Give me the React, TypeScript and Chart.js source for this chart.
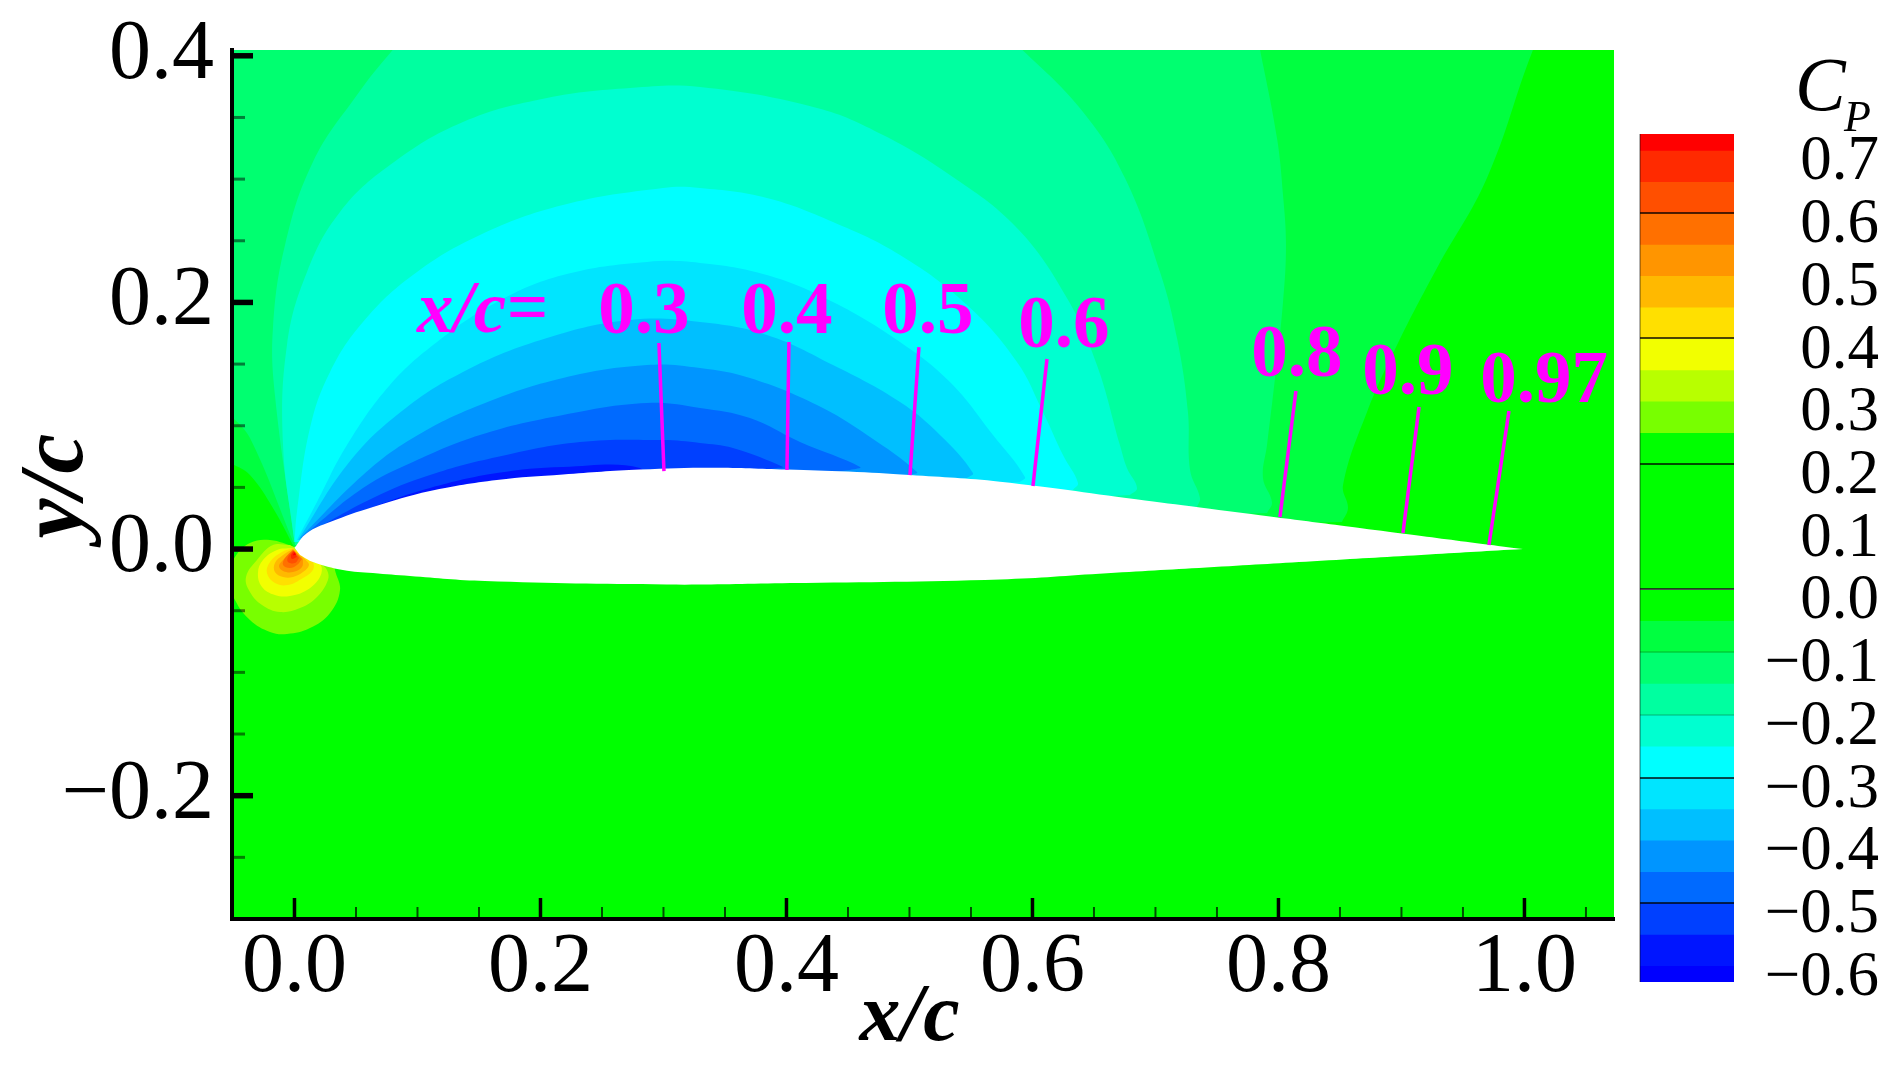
import React, { useEffect, useRef } from 'react';
import { Chart, registerables } from 'chart.js';

Chart.register(...registerables);

const SERIF = '"Liberation Serif", serif';

// plot limits
const xMin = -0.0508;
const xMax = 1.0728;
const yMin = -0.3;
const yMax = 0.4047;

const xMajorTicks = [0, 0.2, 0.4, 0.6, 0.8, 1.0];
const xMinorTicks = [0.05, 0.1, 0.15, 0.25, 0.3, 0.35, 0.45, 0.5, 0.55, 0.65, 0.7, 0.75, 0.85, 0.9, 0.95, 1.05];
const yMajorTicks = [-0.2, 0, 0.2, 0.4];
const yMinorTicks = [-0.25, -0.15, -0.1, -0.05, 0.05, 0.1, 0.15, 0.25, 0.3, 0.35];

// contour boundaries in x/c, y/c (each closes through the inside of the airfoil)
const fieldCorners = [[-0.06, -0.31], [-0.06, 0.44], [1.08, 0.44], [1.08, -0.31]];
const cpM005 = [[0, 0.001], [-0.0175, 0.0333], [-0.0362, 0.06], [-0.06, 0.0803], [-0.06, 0.48], [1.04, 0.48], [1.007, 0.405], [0.9695, 0.3009], [0.9289, 0.2279], [0.8964, 0.1654], [0.872, 0.1111], [0.8525, 0.0519], [0.8565, 0.0333], [0.8516, 0.0219]];
const cpM010 = [[-0.001, 0.0057], [-0.0362, 0.09], [-0.06, 0.1249], [-0.06, 0.48], [0.77, 0.48], [0.785, 0.405], [0.7988, 0.3333], [0.8037, 0.2871], [0.8061, 0.2466], [0.8037, 0.2003], [0.7972, 0.1387], [0.7907, 0.0843], [0.7874, 0.0576], [0.7947, 0.0381], [0.7907, 0.0292]];
const cpM015 = [[0.0004, 0.0032], [-0.0159, 0.1249], [-0.0175, 0.1792], [-0.0077, 0.2466], [0.015, 0.3139], [0.0508, 0.3682], [0.0801, 0.405], [0.13, 0.46], [0.53, 0.46], [0.5915, 0.405], [0.6411, 0.3545], [0.6752, 0.3009], [0.7037, 0.2247], [0.7175, 0.1711], [0.7264, 0.1111], [0.7281, 0.0641], [0.7362, 0.0414], [0.7337, 0.0341]];
const cpM020 = [[0, 0.0057], [-0.0093, 0.0843], [-0.0061, 0.1655], [0.0102, 0.2247], [0.037, 0.2733], [0.0776, 0.3114], [0.137, 0.3463], [0.2053, 0.3658], [0.2728, 0.3739], [0.3297, 0.3747], [0.4248, 0.3577], [0.4785, 0.3358], [0.5329, 0.3033], [0.5874, 0.2603], [0.628, 0.2036], [0.6524, 0.1492], [0.6711, 0.0843], [0.6768, 0.0657], [0.685, 0.0495], [0.6793, 0.0438]];
const cpM025 = [[0, 0.0057], [0.002, 0.03], [0.0126, 0.0981], [0.0289, 0.1436], [0.0557, 0.1841], [0.0963, 0.2222], [0.1508, 0.2547], [0.2183, 0.279], [0.2996, 0.2928], [0.3297, 0.2928], [0.3841, 0.2847], [0.4378, 0.2652], [0.4923, 0.2384], [0.5468, 0.1979], [0.5874, 0.1517], [0.6085, 0.1111], [0.6248, 0.0762], [0.637, 0.0535], [0.6329, 0.0479]];
const cpM030 = [[0.002, 0.0073], [0.0183, 0.0381], [0.0427, 0.0843], [0.0776, 0.133], [0.1159, 0.1679], [0.1646, 0.2003], [0.2183, 0.2222], [0.2866, 0.2328], [0.3297, 0.232], [0.3841, 0.2222], [0.4378, 0.2003], [0.4923, 0.1679], [0.5329, 0.1354], [0.5679, 0.0925], [0.5939, 0.0584], [0.5898, 0.0543]];
const cpM035 = [[0.003, 0.0073], [0.0427, 0.0681], [0.0833, 0.1087], [0.137, 0.1436], [0.2053, 0.1711], [0.2728, 0.1857], [0.3297, 0.1841], [0.3841, 0.1736], [0.4378, 0.1492], [0.4923, 0.1192], [0.5248, 0.0925], [0.5516, 0.0616], [0.5468, 0.0576]];
const cpM040 = [[0.0045, 0.0089], [0.0557, 0.06], [0.0963, 0.09], [0.1508, 0.1168], [0.2183, 0.1387], [0.2866, 0.1492], [0.3297, 0.1468], [0.3703, 0.1387], [0.4248, 0.1168], [0.4655, 0.0925], [0.5061, 0.0624], [0.5004, 0.06]];
const cpM045 = [[0.0069, 0.0105], [0.0557, 0.0495], [0.0963, 0.0706], [0.1508, 0.0925], [0.2183, 0.1087], [0.2866, 0.1184], [0.3297, 0.1144], [0.3703, 0.1062], [0.411, 0.0868], [0.4598, 0.0665], [0.4516, 0.0641]];
const cpM050 = [[0.0085, 0.0114], [0.0638, 0.0414], [0.1102, 0.06], [0.1646, 0.0746], [0.2321, 0.0868], [0.2996, 0.0884], [0.3297, 0.086], [0.3565, 0.0819], [0.3972, 0.0665], [0.3923, 0.0657]];
const cpM055 = [[0.011, 0.013], [0.0638, 0.0341], [0.1102, 0.0495], [0.1646, 0.0616], [0.2183, 0.0665], [0.2809, 0.0657], [0.2809, 0.05]];

// the high pressure spot at the leading edge
const cpP025 = [[0.0004, 0.0016], [-0.0199, 0.0073], [-0.0362, 0.0049], [-0.0484, -0.0065], [-0.0541, -0.0235], [-0.0484, -0.0414], [-0.0362, -0.0576], [-0.0199, -0.0673], [-0.0061, -0.0689], [0.0126, -0.0641], [0.0289, -0.0519], [0.037, -0.0333], [0.0329, -0.017], [0.03, 0]];
const cpP030 = [[-0.0037, 0.0032], [-0.0175, 0.0032], [-0.0305, -0.0089], [-0.0394, -0.0227], [-0.0362, -0.0349], [-0.0264, -0.0454], [-0.0118, -0.0511], [0.0045, -0.0479], [0.0183, -0.0389], [0.0272, -0.0251], [0.0264, -0.017], [0.0207, -0.0114]];
const cpP035 = [[-0.002, 0.0008], [-0.0142, -0.0008], [-0.0256, -0.0089], [-0.0297, -0.0195], [-0.0264, -0.0308], [-0.0159, -0.0373], [-0.0037, -0.0381], [0.0102, -0.0333], [0.0207, -0.0227], [0.0215, -0.013], [0.015, -0.0105]];
const cpP040 = [[-0.0012, 0.0008], [-0.0102, -0.0024], [-0.0199, -0.0105], [-0.0224, -0.0195], [-0.0159, -0.0276], [-0.0053, -0.0292], [0.0069, -0.0235], [0.015, -0.017], [0.015, -0.0105], [0.011, -0.0089]];
const cpP045 = [[-0.0012, 0], [-0.0093, -0.0049], [-0.0159, -0.0114], [-0.0159, -0.0187], [-0.0093, -0.0227], [-0.0012, -0.0227], [0.0069, -0.0187], [0.0118, -0.013], [0.0085, -0.0081]];
const cpP050 = [[-0.0012, -0.0008], [-0.0093, -0.0089], [-0.0126, -0.0138], [-0.0093, -0.0178], [-0.0012, -0.0187], [0.0061, -0.0146], [0.0069, -0.0081]];
const cpP055 = [[-0.0012, -0.0008], [-0.0077, -0.0073], [-0.0093, -0.013], [-0.0037, -0.0154], [0.002, -0.013], [0.0061, -0.0081]];
const cpP060 = [[-0.0012, -0.0016], [-0.0053, -0.0065], [-0.0053, -0.0105], [0.0004, -0.0114], [0.0037, -0.0073]];
const cpP065 = [[-0.0004, -0.0016], [-0.0028, -0.0049], [-0.002, -0.0081], [0.002, -0.0065]];
const cpP070 = [[0.0004, -0.0024], [-0.0012, -0.0049], [0.0012, -0.0049]];

// upper surface from the nose, the tail point twice so the curve keeps its corner, then the lower surface back
const airfoil = [[0, 0.001], [0.0102, 0.013], [0.0289, 0.0219], [0.0638, 0.0341], [0.1102, 0.047], [0.1646, 0.056], [0.2183, 0.0605], [0.2809, 0.0645], [0.34, 0.066], [0.4004, 0.0645], [0.45, 0.0628], [0.5004, 0.06], [0.5736, 0.0546], [0.6842, 0.0404], [0.7362, 0.0337], [0.7931, 0.0264], [0.8549, 0.0185], [0.902, 0.0124], [0.9711, 0.0035], [0.9988, 0], [0.9988, 0], [0.9223, -0.0044], [0.8345, -0.0095], [0.7476, -0.0146], [0.6606, -0.0196], [0.5736, -0.0246], [0.4029, -0.0276], [0.3028, -0.0288], [0.1549, -0.026], [0.0939, -0.0219], [0.0638, -0.0195], [0.0394, -0.017], [0.015, -0.0105], [0.0045, -0.0049]];

const fieldLayers: [number[][], string][] = [
  [fieldCorners, '#00ff00'],
  [cpM005, '#00ff40'],
  [cpM010, '#00ff70'],
  [cpM015, '#00ffa0'],
  [cpM020, '#00ffd0'],
  [cpM025, '#00ffff'],
  [cpM030, '#00e5ff'],
  [cpM035, '#00bfff'],
  [cpM040, '#0095ff'],
  [cpM045, '#006aff'],
  [cpM050, '#0040ff'],
  [cpM055, '#0015ff'],
  [cpP025, '#78ff00'],
  [cpP030, '#b8ff00'],
  [cpP035, '#f2ff00'],
  [cpP040, '#ffe000'],
  [cpP045, '#ffb900'],
  [cpP050, '#ff9500'],
  [cpP055, '#ff7000'],
  [cpP060, '#ff4f00'],
  [cpP065, '#ff2a00'],
  [cpP070, '#ff0000'],
  [airfoil, '#ffffff'],
];

// magenta station markers, from the label down to the surface
const stationTops = [[0.2963, 0.1671], [0.402, 0.1679], [0.5077, 0.1638], [0.6118, 0.1541], [0.8142, 0.1281], [0.9143, 0.1152], [0.9874, 0.1119]];
const stationFeet = [[0.3004, 0.0632], [0.4004, 0.0641], [0.5004, 0.06], [0.6004, 0.0511], [0.8012, 0.026], [0.9012, 0.013], [0.9711, 0.0032]];

const stationLabels = ['x/c=', '0.3', '0.4', '0.5', '0.6', '0.8', '0.9', '0.97'];
const stationLabelX = [0.1528, 0.2841, 0.4004, 0.515, 0.6256, 0.815, 0.9053, 1.0159];
const stationLabelY = [0.176, 0.1752, 0.1752, 0.1752, 0.1638, 0.1403, 0.1257, 0.1192];

// colour bar
const barLevels = [0.726, 0.7, 0.65, 0.6, 0.55, 0.5, 0.45, 0.4, 0.35, 0.3, 0.25, 0.2, 0, -0.05, -0.1, -0.15, -0.2, -0.25, -0.3, -0.35, -0.4, -0.45, -0.5, -0.55, -0.6, -0.626];
const barColors = ['#ff0000', '#ff2a00', '#ff4f00', '#ff7000', '#ff9500', '#ffb900', '#ffe000', '#f2ff00', '#b8ff00', '#78ff00', '#00ff00', '#00ff00', '#00ff00', '#00ff40', '#00ff70', '#00ffa0', '#00ffd0', '#00ffff', '#00e5ff', '#00bfff', '#0095ff', '#006aff', '#0040ff', '#0015ff', '#0000ff'];
const barTicks = [0.7, 0.6, 0.5, 0.4, 0.3, 0.2, 0.1, 0, -0.1, -0.2, -0.3, -0.4, -0.5, -0.6];
const barDarkLines = [0.6, 0.4, 0.2, 0, -0.3, -0.5];
const barFaintLines = [-0.1, -0.2];

const fmt = (v: number) => (v < 0 ? '\u2212' : '') + Math.abs(v).toFixed(1);

const annotatePlugin = {
  id: 'annotate',
  afterDatasetsDraw(chart: Chart) {
    const { ctx, chartArea } = chart;
    const sx = chart.scales.x;
    const sy = chart.scales.y;

    const tick = (x1: number, y1: number, x2: number, y2: number, w: number, color: string) => {
      ctx.strokeStyle = color;
      ctx.lineWidth = w;
      ctx.beginPath();
      ctx.moveTo(x1, y1);
      ctx.lineTo(x2, y2);
      ctx.stroke();
    };

    ctx.save();
    xMinorTicks.forEach((v) => {
      const p = sx.getPixelForValue(v);
      tick(p, chartArea.bottom, p, chartArea.bottom - 12, 2, 'rgba(0,0,0,0.7)');
    });
    xMajorTicks.forEach((v) => {
      const p = sx.getPixelForValue(v);
      tick(p, chartArea.bottom, p, chartArea.bottom - 21, 3.5, '#000');
    });
    yMinorTicks.forEach((v) => {
      const p = sy.getPixelForValue(v);
      tick(chartArea.left, p, chartArea.left + 13, p, 3, 'rgba(0,0,0,0.5)');
    });
    yMajorTicks.forEach((v) => {
      const p = sy.getPixelForValue(v);
      tick(chartArea.left, p, chartArea.left + 21, p, 5.5, '#000');
    });

    ctx.textAlign = 'center';
    ctx.textBaseline = 'alphabetic';
    ctx.fillStyle = '#ff00ff';
    stationLabels.forEach((t, i) => {
      ctx.font = `${i === 0 ? 'italic ' : ''}bold 73px ${SERIF}`;
      ctx.fillText(t, sx.getPixelForValue(stationLabelX[i]), sy.getPixelForValue(stationLabelY[i]));
    });

    // axis titles
    ctx.fillStyle = '#000';
    ctx.font = `italic bold 82px ${SERIF}`;
    ctx.fillText('x/c', sx.getPixelForValue(0.5), sy.getPixelForValue(-0.398));
    ctx.font = `italic bold 90px ${SERIF}`;
    ctx.translate(sx.getPixelForValue(-0.1728), sy.getPixelForValue(0.0511));
    ctx.rotate(-Math.PI / 2);
    ctx.fillText('y/c', 0, 0);
    ctx.restore();
  },
};

const barTitlePlugin = {
  id: 'barTitle',
  afterDraw(chart: Chart) {
    const { ctx, chartArea } = chart;
    ctx.save();
    // thin dark left edge of the bar
    ctx.strokeStyle = 'rgba(0,0,0,0.4)';
    ctx.lineWidth = 1.5;
    ctx.beginPath();
    ctx.moveTo(chartArea.left, chartArea.top);
    ctx.lineTo(chartArea.left, chartArea.bottom);
    ctx.stroke();

    ctx.fillStyle = '#000';
    ctx.textAlign = 'left';
    ctx.textBaseline = 'alphabetic';
    ctx.font = `italic 76px ${SERIF}`;
    ctx.fillText('C', chartArea.left + 155, 110);
    ctx.font = `italic 44px ${SERIF}`;
    ctx.fillText('P', chartArea.left + 204, 131);
    ctx.restore();
  },
};

const App: React.FC = () => {
  const plotRef = useRef<HTMLCanvasElement>(null);
  const barRef = useRef<HTMLCanvasElement>(null);

  useEffect(() => {
    if (!plotRef.current || !barRef.current) return;

    const fieldSets = fieldLayers.map(([pts, color], i) => ({
      data: pts.map(([x, y]) => ({ x, y })),
      backgroundColor: color,
      borderWidth: 0,
      fill: 'shape',
      pointRadius: 0,
      tension: i === 0 ? 0 : 0.4,
      capBezierPoints: false,
      order: 100 - i,
    }));
    const stationSets = stationTops.map((top, i) => ({
      data: [top, stationFeet[i]].map(([x, y]) => ({ x, y })),
      borderColor: '#ff00ff',
      borderWidth: 3.5,
      fill: false,
      pointRadius: 0,
      order: 0,
    }));

    const plot = new Chart(plotRef.current, {
      type: 'line',
      data: { datasets: [...fieldSets, ...stationSets] as any },
      plugins: [annotatePlugin],
      options: {
        animation: false,
        responsive: false,
        events: [],
        layout: { padding: { top: 50, right: 285, left: 0, bottom: 0 } },
        plugins: { legend: { display: false }, tooltip: { enabled: false } },
        scales: {
          x: {
            type: 'linear',
            min: xMin,
            max: xMax,
            afterBuildTicks: (s: any) => { s.ticks = xMajorTicks.map((value) => ({ value })); },
            afterFit: (s: any) => {
              s.height = 157;
              s.paddingLeft = 0;
              s.paddingRight = 0;
            },
            grid: { display: false },
            border: { display: true, color: '#000', width: 4, z: 1 },
            ticks: {
              padding: 0,
              autoSkip: false,
              maxRotation: 0,
              minRotation: 0,
              color: '#000',
              font: { family: SERIF, size: 84, lineHeight: 1 },
              callback: (v: any) => fmt(Number(v)),
            },
          },
          y: {
            type: 'linear',
            min: yMin,
            max: yMax,
            afterBuildTicks: (s: any) => { s.ticks = yMajorTicks.map((value) => ({ value })); },
            afterFit: (s: any) => {
              s.width = 232;
              s.paddingTop = 0;
              s.paddingBottom = 0;
            },
            grid: { display: false },
            border: { display: true, color: '#000', width: 4, z: 1 },
            ticks: {
              padding: 10,
              autoSkip: false,
              color: '#000',
              font: { family: SERIF, size: 84, lineHeight: 1 },
              callback: (v: any) => fmt(Number(v)),
            },
          },
        },
      },
    });

    const bar = new Chart(barRef.current, {
      type: 'bar',
      data: {
        labels: ['Cp'],
        datasets: barColors.map((color, i) => ({
          data: [[barLevels[i + 1], barLevels[i]]],
          backgroundColor: color,
          borderWidth: 0,
          grouped: false,
          barPercentage: 1,
          categoryPercentage: 1,
        })) as any,
      },
      plugins: [barTitlePlugin],
      options: {
        animation: false,
        responsive: false,
        events: [],
        layout: { padding: { top: 134, right: 20, left: 20, bottom: 94 } },
        plugins: { legend: { display: false }, tooltip: { enabled: false } },
        scales: {
          x: { display: false },
          y: {
            position: 'right',
            min: -0.626,
            max: 0.726,
            afterBuildTicks: (s: any) => { s.ticks = barTicks.map((value) => ({ value })); },
            afterFit: (s: any) => { s.width = 145; },
            border: { display: false },
            grid: {
              drawTicks: false,
              z: 1,
              lineWidth: 2,
              color: (c: any) => {
                if (barDarkLines.includes(c.tick.value)) return 'rgba(0,0,0,0.7)';
                if (barFaintLines.includes(c.tick.value)) return 'rgba(0,0,0,0.15)';
                return 'rgba(0,0,0,0)';
              },
            },
            ticks: {
              padding: 0,
              crossAlign: 'far',
              labelOffset: 12.5,
              autoSkip: false,
              color: '#000',
              font: { family: SERIF, size: 63, lineHeight: 1 },
              callback: (v: any) => fmt(Number(v)),
            },
          },
        },
      },
    });

    return () => {
      plot.destroy();
      bar.destroy();
    };
  }, []);

  return (
    <div style={{ position: 'absolute', left: 0, top: 0, width: 1899, height: 1076, background: '#fff', overflow: 'hidden' }}>
      <canvas ref={plotRef} width={1899} height={1076} style={{ position: 'absolute', left: 0, top: 0 }} />
      <canvas ref={barRef} width={279} height={1076} style={{ position: 'absolute', left: 1620, top: 0 }} />
    </div>
  );
};

export default App;
